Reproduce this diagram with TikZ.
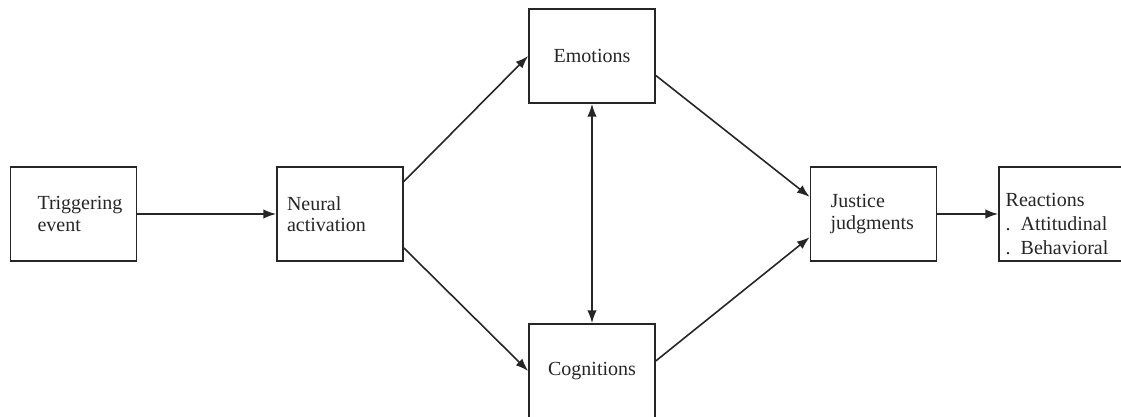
\documentclass[tikz,border=0pt]{standalone}
\usepackage{fontspec}
\setmainfont{Liberation Serif}
\usetikzlibrary{arrows.meta}

\tikzset{
  block/.style={draw=black!85, line width=1.3pt, minimum width=94.5pt, minimum height=70.5pt,
    text width=94.5pt, inner xsep=0pt, align=left, text=black!85,
    font=\fontsize{15}{16}\selectfont},
  indent/.style={execute at begin node={\leftskip=#1\relax}},
  link/.style={draw=black!85, line width=1.2pt, -{Latex[length=9.5pt,width=7pt]}},
  twoway/.style={link, {Latex[length=9.5pt,width=7pt]}-{Latex[length=9.5pt,width=7pt]}},
}

\begin{document}
\begin{tikzpicture}[x=0.75pt,y=-0.75pt]
\useasboundingbox (0,0) rectangle (1121,417);

% boxes
\node[block,indent=20.25pt] (trigger) at (73.5,214) {Triggering\\event};
\node[block,indent=7.5pt] (neural) at (340,214) {Neural\\activation};
\node[block,align=center] (emotions) at (592,56) {Emotions};
\node[block,align=center] (cognitions) at (592,371) {Cognitions};
\node[block,indent=15pt] (justice) at (873.5,214) {Justice\\judgments};
\node[block,indent=5pt,inner ysep=0pt,font=\fontsize{15}{18}\selectfont] (reactions) at (1062,214)
  {\rule{0pt}{25pt}Reactions\\. Attitudinal\\. Behavioral};

% arrows
\draw[link] (trigger) -- (neural);
\draw[link] (neural.27) -- (emotions.west);
\draw[link] (neural.-28) -- (cognitions.west);
\draw[twoway] (emotions) -- (cognitions);
\draw[link] (emotions.-17) -- (justice.165);
\draw[link] (cognitions.9) -- (justice.200);
\draw[link] (justice) -- (reactions);
\end{tikzpicture}
\end{document}
